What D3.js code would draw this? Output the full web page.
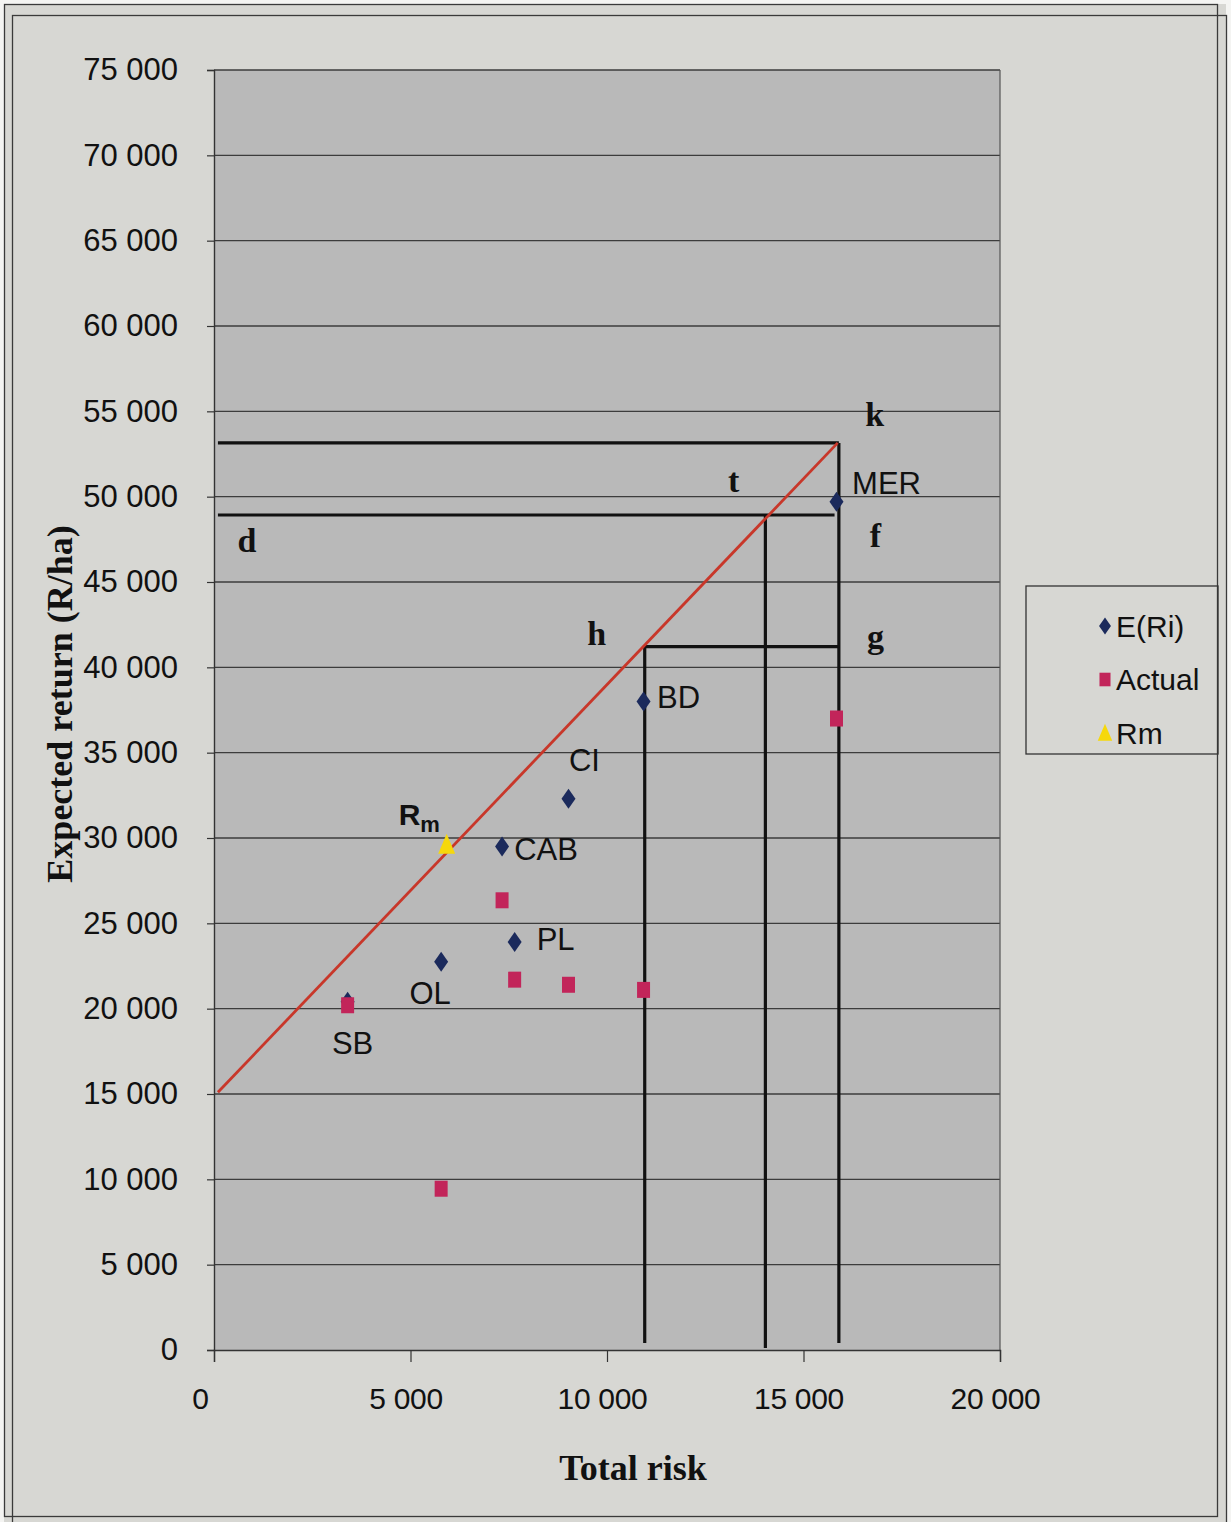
<!DOCTYPE html>
<html>
<head>
<meta charset="utf-8">
<script src="https://cdn.jsdelivr.net/npm/d3@7"></script>
<style>
  html, body { margin: 0; padding: 0; background: #f4f4f2; }
  svg { display: block; }
</style>
</head>
<body>
<svg id="chart" width="1231" height="1522"></svg>
<script>
// Crops and their risk / return figures (R/ha)
const crops = ["SB", "OL", "CAB", "PL", "CI", "BD", "MER"];
const totalRisk = [3400, 5780, 7330, 7650, 9020, 10930, 15840];
const expectedReturn = [20400, 22750, 29500, 23900, 32300, 38000, 49700];
const actualReturn = [20200, 9450, 26350, 21700, 21400, 21100, 37000];

// Market portfolio
const marketRisk = [5920];
const marketReturn = [29600];

// Capital market line end points [risk, return]
const cmlStart = [100, 15100];
const cmlEnd = [15870, 53150];

// Construction lines, each [x1, y1, x2, y2] in data units
const guideLines = [
  [100, 53150, 15900, 53150],
  [100, 48925, 15790, 48925],
  [10960, 41210, 15900, 41210],
  [15900, 53150, 15900, 410],
  [14030, 48925, 14030, 120],
  [10960, 41210, 10960, 410]
];

// Point letters on the construction
const letterNames = ["k", "t", "d", "f", "h", "g"];
const letterRisk = [16810, 13220, 840, 16830, 9740, 16830];
const letterReturn = [54840, 50975, 47460, 47750, 42010, 41780];

const xTicks = [0, 5000, 10000, 15000, 20000];
const yTicks = d3.range(0, 75001, 5000);

// Label offsets (px) from each crop's expected-return marker
const labelOffset = {
  SB: [5, 42], OL: [-11, 32], CAB: [44, 3], PL: [41, -3],
  CI: [16, -38], BD: [35, -4], MER: [50, -18]
};

const svg = d3.select("#chart");
const W = 1231, H = 1522;
const plot = { left: 214, right: 1000, top: 70, bottom: 1350 };

const x = d3.scaleLinear().domain([0, 20000]).range([plot.left, plot.right]);
const y = d3.scaleLinear().domain([0, 75000]).range([plot.bottom, plot.top]);
const fmt = v => d3.format(",")(v).replace(/,/g, " ");

const sans = "'Liberation Sans', Arial, sans-serif";
const serif = "'Liberation Serif', 'Times New Roman', serif";

// Page and double frame
svg.append("rect").attr("x", 0).attr("y", 0).attr("width", W).attr("height", H).attr("fill", "#f4f4f2");
svg.append("rect").attr("x", 4).attr("y", 4).attr("width", 1222).attr("height", 1518).attr("fill", "#d7d7d3");
svg.append("rect").attr("x", 4.5).attr("y", 4.5).attr("width", 1213).attr("height", 1512)
  .attr("fill", "none").attr("stroke", "#3a3a3a").attr("stroke-width", 1.3);
svg.append("rect").attr("x", 12.5).attr("y", 15.5).attr("width", 1214).attr("height", 1520)
  .attr("fill", "none").attr("stroke", "#3a3a3a").attr("stroke-width", 1.3);

// Plot area
svg.append("rect")
  .attr("x", plot.left).attr("y", plot.top)
  .attr("width", plot.right - plot.left).attr("height", plot.bottom - plot.top)
  .attr("fill", "#b9b9b9");

// Horizontal gridlines
svg.append("g").selectAll("line").data(yTicks.filter(d => d > 0)).join("line")
  .attr("x1", plot.left).attr("x2", plot.right)
  .attr("y1", d => y(d)).attr("y2", d => y(d))
  .attr("stroke", "#3c3c3c").attr("stroke-width", 1.3);

// Right border of plot area
svg.append("line").attr("x1", plot.right).attr("x2", plot.right)
  .attr("y1", plot.top).attr("y2", plot.bottom)
  .attr("stroke", "#555").attr("stroke-width", 1.2);

// Y axis
const yAxis = svg.append("g").attr("transform", `translate(${plot.left},0)`)
  .call(d3.axisLeft(y).tickValues(yTicks).tickFormat(fmt).tickSize(7).tickPadding(29));
yAxis.select(".domain").attr("stroke", "#333").attr("stroke-width", 1.4);
yAxis.selectAll(".tick line").attr("stroke", "#333").attr("stroke-width", 1.2);
yAxis.selectAll(".tick text").attr("font-family", sans).attr("font-size", 31).attr("fill", "#111");

// X axis
const xAxis = svg.append("g").attr("transform", `translate(0,${plot.bottom})`)
  .call(d3.axisBottom(x).tickValues(xTicks).tickFormat(fmt).tickSize(12).tickPadding(26));
xAxis.select(".domain").attr("stroke", "#333").attr("stroke-width", 1.4);
xAxis.selectAll(".tick line").attr("stroke", "#333").attr("stroke-width", 1.2);
xAxis.selectAll(".tick text").attr("font-family", sans).attr("font-size", 30)
  .attr("fill", "#111").attr("dx", (d, i) => i === 0 ? -14 : -5).attr("letter-spacing", -0.3);

// Axis titles
svg.append("text").attr("x", 633).attr("y", 1480).attr("text-anchor", "middle")
  .attr("font-family", serif).attr("font-weight", "bold").attr("font-size", 36)
  .attr("fill", "#111").text("Total risk");
svg.append("text").attr("transform", "translate(72,704) rotate(-90)").attr("text-anchor", "middle")
  .attr("font-family", serif).attr("font-weight", "bold").attr("font-size", 36)
  .attr("fill", "#111").text("Expected return (R/ha)");

// Construction lines
svg.append("g").selectAll("line").data(guideLines).join("line")
  .attr("x1", d => x(d[0])).attr("y1", d => y(d[1]))
  .attr("x2", d => x(d[2])).attr("y2", d => y(d[3]))
  .attr("stroke", "#111").attr("stroke-width", 3.2);

// Capital market line
svg.append("line")
  .attr("x1", x(cmlStart[0])).attr("y1", y(cmlStart[1]))
  .attr("x2", x(cmlEnd[0])).attr("y2", y(cmlEnd[1]))
  .attr("stroke", "#c8372a").attr("stroke-width", 2.8);

// Symbols
const diamond = "M0,-10L7,0L0,10L-7,0Z";
const square = "M-6.5,-8H6.5V8H-6.5Z";
const triangle = "M0,-11L8.5,9H-8.5Z";

const idx = d3.range(crops.length);

svg.append("g").selectAll("path").data(idx).join("path")
  .attr("d", diamond)
  .attr("transform", i => `translate(${x(totalRisk[i])},${y(expectedReturn[i])})`)
  .attr("fill", "#1b2a5c");

svg.append("g").selectAll("path").data(idx).join("path")
  .attr("d", square)
  .attr("transform", i => `translate(${x(totalRisk[i])},${y(actualReturn[i])})`)
  .attr("fill", "#c2255a");

svg.append("g").selectAll("path").data(marketRisk).join("path")
  .attr("d", triangle)
  .attr("transform", (d, i) => `translate(${x(d)},${y(marketReturn[i])})`)
  .attr("fill", "#f6d80c");

// Crop labels
svg.append("g").selectAll("text").data(idx).join("text")
  .attr("x", i => x(totalRisk[i]) + labelOffset[crops[i]][0])
  .attr("y", i => y(expectedReturn[i]) + labelOffset[crops[i]][1])
  .attr("text-anchor", "middle").attr("dominant-baseline", "central")
  .attr("font-family", sans).attr("font-size", 31).attr("fill", "#111")
  .text(i => crops[i]);

// Market label R_m
const rm = svg.append("text")
  .attr("x", x(marketRisk[0]) - 48).attr("y", y(marketReturn[0]) - 20)
  .attr("font-family", sans).attr("font-weight", "bold").attr("font-size", 30).attr("fill", "#111");
rm.append("tspan").text("R");
rm.append("tspan").attr("font-size", 22).attr("dy", 7).text("m");

// Construction letters
svg.append("g").selectAll("text").data(letterNames).join("text")
  .attr("x", (d, i) => x(letterRisk[i]))
  .attr("y", (d, i) => y(letterReturn[i]))
  .attr("text-anchor", "middle").attr("dominant-baseline", "central")
  .attr("font-family", serif).attr("font-weight", "bold").attr("font-size", 34).attr("fill", "#111")
  .text(d => d);

// Legend
const legend = svg.append("g");
legend.append("rect").attr("x", 1026).attr("y", 586).attr("width", 192).attr("height", 168)
  .attr("fill", "none").attr("stroke", "#333").attr("stroke-width", 1.3);
const legendItems = [
  { label: "E(Ri)", shape: diamond, color: "#1b2a5c" },
  { label: "Actual", shape: square, color: "#c2255a" },
  { label: "Rm", shape: triangle, color: "#f6d80c" }
];
const li = legend.selectAll("g.item").data(legendItems).join("g")
  .attr("class", "item")
  .attr("transform", (d, i) => `translate(1105,${626 + i * 53.5})`);
li.append("path").attr("d", d => d.shape).attr("fill", d => d.color)
  .attr("transform", "scale(0.85)");
li.append("text").attr("x", 11).attr("dominant-baseline", "central")
  .attr("font-family", sans).attr("font-size", 30).attr("fill", "#111")
  .text(d => d.label);
</script>
</body>
</html>
